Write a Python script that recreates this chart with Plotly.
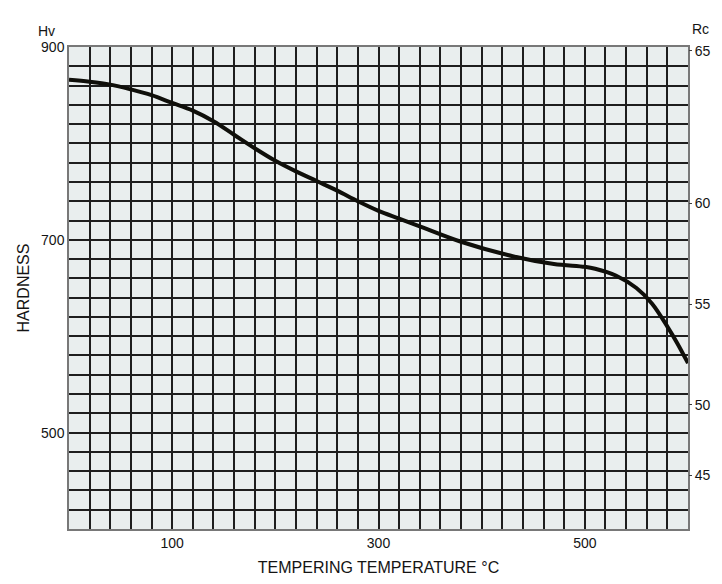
import plotly.graph_objects as go

# tempering curve
temp_c = [0, 20, 40, 60, 80, 100, 120, 140, 160, 180, 200, 220, 240, 260, 280, 300,
          320, 340, 380, 430, 470, 500, 510, 530, 550, 565, 580, 590, 600]
hardness_hv = [866, 864, 861, 856, 850, 842, 834, 823, 809, 795, 782, 771, 761, 751, 740, 730,
               722, 714, 698, 683, 675, 672, 670, 663, 650, 634, 610, 592, 572]

x_ticks = [100, 300, 500]
hv_ticks = [500, 700, 900]
# Rc scale on the right, placed at its Hv equivalents
rc_labels = ['65', '60', '55', '50', '45']
rc_at_hv = [896, 738, 633, 529, 456]

font_ = 'Liberation Sans, Arial, sans-serif'
ink = 'rgb(20, 20, 20)'
grid_ = dict(
    showgrid=True,
    gridcolor='rgb(30, 30, 30)',
    gridwidth=1.6,
    minor=dict(dtick=20, tick0=0, showgrid=True,
               gridcolor='rgb(30, 30, 30)', gridwidth=1.6, ticks=''),
    showline=True,
    mirror=True,
    linecolor='rgb(120, 120, 120)',
    linewidth=1.5,
    zeroline=False,
    tickfont=dict(family=font_, size=14, color=ink),
)

fig = go.Figure()

fig.add_trace(go.Scatter(x=temp_c, y=hardness_hv, mode='lines',
    line=dict(color='rgb(15, 15, 10)', width=4, shape='spline', smoothing=1.0),
    hoverinfo='x+y',
))

# dummy trace so the right axis is drawn
fig.add_trace(go.Scatter(x=[temp_c[0]], y=[hardness_hv[0]], yaxis='y2',
    mode='markers', marker=dict(opacity=0), hoverinfo='skip'))

# page body has an 8px margin, so the figure is 16px smaller than the window
fig.update_layout(
    width=706,
    height=568,
    autosize=False,
    margin=dict(l=61, r=26, t=39, b=47, autoexpand=False),
    showlegend=False,
    plot_bgcolor='rgb(233, 238, 238)',
    paper_bgcolor='white',
    xaxis=dict(grid_, range=[0, 600], tickmode='array', tickvals=x_ticks,
               ticks='', ticklen=0,
               title=dict(text='TEMPERING TEMPERATURE °C', standoff=12,
                          font=dict(family=font_, size=16, color=ink))),
    yaxis=dict(grid_, range=[400, 900], tickmode='array', tickvals=hv_ticks,
               ticks='', ticklen=0,
               title=dict(text='HARDNESS', standoff=7,
                          font=dict(family=font_, size=16, color=ink))),
    yaxis2=dict(overlaying='y', side='right', range=[400, 900],
                tickmode='array', tickvals=rc_at_hv, ticktext=rc_labels,
                showgrid=False, zeroline=False, showline=False,
                ticks='outside', ticklen=3, tickcolor='rgb(60, 60, 60)',
                tickfont=dict(family=font_, size=14, color=ink)),
    annotations=[
        dict(xref='paper', yref='paper', x=-0.02, y=1.0, yshift=6,
             xanchor='right', yanchor='bottom', text='Hv', showarrow=False,
             font=dict(family=font_, size=14, color=ink)),
        dict(xref='paper', yref='paper', x=1.0, y=1.0, xshift=2, yshift=8,
             xanchor='left', yanchor='bottom', text='Rc', showarrow=False,
             font=dict(family=font_, size=14, color=ink)),
    ],
)

fig.write_html("out.html")
